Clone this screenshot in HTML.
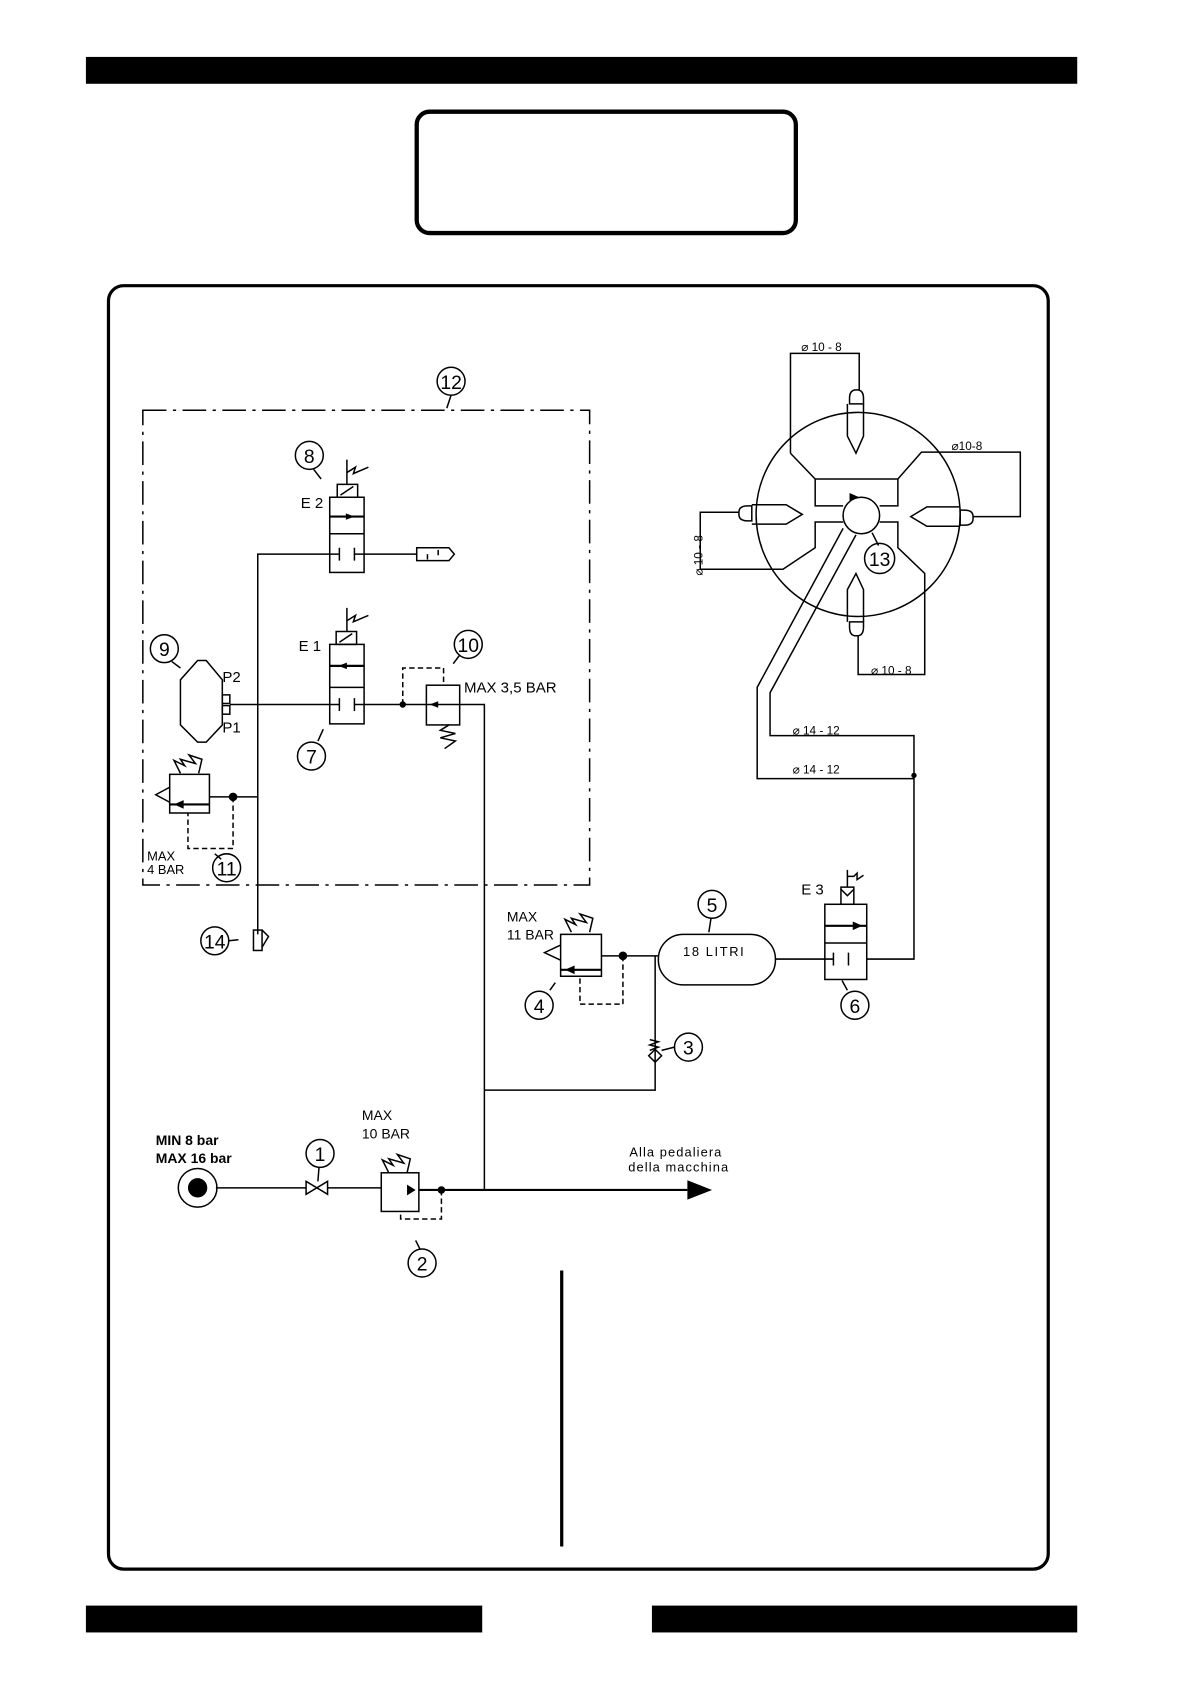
<!DOCTYPE html>
<html><head><meta charset="utf-8"><style>
html,body{margin:0;padding:0;background:#fff;width:1190px;height:1684px;overflow:hidden}
svg{display:block}
text{font-family:"Liberation Sans",sans-serif;fill:#000}
</style></head><body>
<svg width="1190" height="1684" viewBox="0 0 1108 1568" preserveAspectRatio="none" xmlns="http://www.w3.org/2000/svg">
<rect x="80" y="53" width="923" height="25" fill="#000"/>
<rect x="388" y="104" width="353" height="113" rx="12" fill="none" stroke="#000" stroke-width="4"/>
<rect x="101" y="266" width="875" height="1195" rx="14" fill="none" stroke="#000" stroke-width="3"/>
<rect x="80" y="1495" width="369" height="25" fill="#000"/>
<rect x="607" y="1495" width="396" height="25" fill="#000"/>
<line x1="523" y1="1183" x2="523" y2="1440" stroke="#000" stroke-width="3"/>

<g fill="none" stroke="#000" stroke-width="1.4">
<rect x="133" y="382" width="416" height="442" stroke-dasharray="22,6,3,6"/>
<line x1="420" y1="368" x2="416" y2="380"/>
<rect x="307" y="463" width="32" height="70"/>
<line x1="307" y1="481" x2="339" y2="481" stroke-width="2"/>
<line x1="307" y1="497" x2="339" y2="497"/>
<rect x="314" y="451" width="19" height="12"/><line x1="317" y1="461" x2="329" y2="453"/>
<path d="M323 451V428M323 440l8-5-2 6 14-6"/>
<path d="M240 870V516H316M316 510v12M330 510v12M330 516H388"/>
<path d="M388 510h30l5 6-5 6h-30z"/><path d="M398 516v5M408 512v5"/>
<line x1="292" y1="437" x2="299" y2="446"/>
<rect x="307" y="600" width="32" height="74"/>
<line x1="307" y1="620" x2="339" y2="620" stroke-width="2"/>
<line x1="307" y1="640" x2="339" y2="640"/>
<rect x="313" y="588" width="19" height="12"/><line x1="316" y1="598" x2="328" y2="590"/>
<path d="M323 588V566M323 578l8-5-2 6 14-6"/>
<path d="M214 656H316M316 650v12M330 650v12M330 656H428"/>
<line x1="301" y1="679" x2="296" y2="690"/>
<rect x="397" y="638" width="31" height="37"/>
<path d="M375 656v-34h38v16" stroke-dasharray="5,3"/>
<path d="M428 656h23V1108"/>
<path d="M418 675l-8 5 14 3-14 4 14 3-10 7"/>
<line x1="428" y1="610" x2="422" y2="618"/>
<path d="M184 615h8l15 18v42l-15 16h-8l-16-16v-42z"/>
<rect x="207" y="647" width="7" height="8"/><rect x="207" y="657" width="7" height="8"/>
<line x1="160" y1="616" x2="168" y2="622"/>
<rect x="158" y="721" width="37" height="36"/>
<line x1="158" y1="749" x2="195" y2="749" stroke-width="2"/>
<path d="M158 733l-13 7 13 7"/>
<path d="M168 720l-6-12 10 5-4-6 14 4-6-8 12 4 -3 13"/>
<path d="M195 742H240"/>
<path d="M217 742v48h-42v-33" stroke-dasharray="5,3"/>
<line x1="200" y1="795" x2="206" y2="800"/>
<rect x="236" y="866" width="8" height="19"/><path d="M244 866l6 6-6 10"/>
<line x1="213" y1="876" x2="222" y2="875"/>
<circle cx="799" cy="479" r="95"/>
<circle cx="802" cy="480" r="17"/>
<path d="M736 422V329H800V363"/>
<path d="M736 422l23 24h77l22-25h92v60h-44"/>
<path d="M759 446v25h26M836 446v25h-17"/>
<path d="M785 486h-26v24l-30 20h-77v-53h36"/>
<path d="M819 486h17v24l25 24v94h-62v-36"/>
<path d="M797 363q-6 0-6 8v5h13v-5q0-8-6-8z"/>
<path d="M789 376v30l8 16 7-16v-30"/>
<path d="M797 592q-6 0-6-8v-5h13v5q0 8-6 8z"/>
<path d="M789 579v-30l8-15 7 15v30"/>
<path d="M688 477q0-6 8-6h4v14h-4q-8 0-8-6z"/><path d="M700 470h32l15 9-15 9h-32"/>
<path d="M906 481q0-6-8-6h-4v14h4q8 0 8-6z"/><path d="M894 472h-31l-15 9 15 9h31"/>
<path d="M785 492L705 640V725H851"/>
<path d="M797 498L717 645V685H851V893H807"/>
<line x1="812" y1="496" x2="818" y2="508"/>
<rect x="768" y="842" width="39" height="70"/>
<line x1="768" y1="862" x2="807" y2="862" stroke-width="2"/>
<line x1="768" y1="878" x2="807" y2="878"/>
<path d="M783 826h12v16h-12z"/><path d="M783 828l6 6 6-6"/>
<path d="M789 826v-16M789 816l6 0 3-3 0 6 6-4"/>
<path d="M722 893H776M776 887v12M790 887v12"/>
<line x1="784" y1="913" x2="789" y2="922"/>
<rect x="613" y="870" width="109" height="47" rx="23"/>
<line x1="662" y1="855" x2="660" y2="868"/>
<rect x="522" y="870" width="38" height="39"/>
<line x1="522" y1="903" x2="560" y2="903" stroke-width="2"/>
<path d="M522 880l-15 7 15 7"/>
<path d="M532 868l-6-12 10 5-4-6 14 4-6-8 12 4-3 13"/>
<path d="M560 890H613M610 890V1015H451"/>
<path d="M580 890v45h-40v-26" stroke-dasharray="5,3"/>
<line x1="512" y1="922" x2="517" y2="915"/>
<path d="M605 968l8 2-8 3 8 2-8 3"/>
<path d="M604 983l6 6 6-6-6-6z"/>
<line x1="616" y1="978" x2="628" y2="975"/>
<path d="M201 1106H285M305 1106H355"/>
<path d="M285 1100v12l20-12v12z"/>
<line x1="297" y1="1087" x2="296" y2="1100"/>
<rect x="355" y="1092" width="35" height="36"/>
<path d="M390 1108H640" stroke-width="2"/>
<path d="M411 1108v27h-38v-7" stroke-dasharray="5,3"/>
<path d="M362 1092l-6-12 10 5-4-6 14 4-6-8 12 4-3 13"/>
<line x1="391" y1="1163" x2="387" y2="1155"/>
<circle cx="184" cy="1106" r="18"/>
</g>
<g fill="#000">
<path d="M355 1108h32l-8-5v10l8-5z"/>
<path d="M640 1099l23 9-23 9z"/>
<circle cx="184" cy="1106" r="9"/>
<circle cx="411" cy="1108" r="3.5"/><circle cx="375" cy="656" r="3"/>
<circle cx="217" cy="742" r="4"/><circle cx="580" cy="890" r="4"/><circle cx="851" cy="722" r="2.5"/>
<path d="M330 481l-8-3v6z"/>
<path d="M315 620l8-3v6z"/>
<path d="M400 656l8-3v6z"/><path d="M162 749l9-4v8z"/><path d="M526 903l9-4v8z"/>
<path d="M803 862l-9-4v8z"/><path d="M800 463l-9-4v8z"/>
</g>
<g fill="none" stroke="#000" stroke-width="1.4">
<circle cx="420" cy="355" r="13"/><circle cx="288" cy="424" r="13"/><circle cx="153" cy="604" r="13"/>
<circle cx="290" cy="704" r="13"/><circle cx="436" cy="600" r="13"/><circle cx="211" cy="808" r="13"/>
<circle cx="200" cy="876" r="13"/><circle cx="819" cy="520" r="14"/><circle cx="663" cy="842" r="13"/>
<circle cx="796" cy="936" r="13"/><circle cx="502" cy="936" r="13"/><circle cx="641" cy="975" r="13"/>
<circle cx="298" cy="1074" r="13"/><circle cx="393" cy="1176" r="13"/>
</g>
<g font-size="18" text-anchor="middle">
<text x="420" y="362">12</text><text x="288" y="431">8</text><text x="153" y="611">9</text>
<text x="290" y="711">7</text><text x="436" y="607">10</text><text x="211" y="815">11</text>
<text x="200" y="883">14</text><text x="819" y="527">13</text><text x="663" y="849">5</text>
<text x="796" y="943">6</text><text x="502" y="943">4</text><text x="641" y="982">3</text>
<text x="298" y="1081">1</text><text x="393" y="1183">2</text>
</g>
<g font-size="14">
<text x="280" y="473">E 2</text><text x="278" y="606">E 1</text>
<text x="207" y="635">P2</text><text x="207" y="682">P1</text>
<text x="432" y="645">MAX  3,5 BAR</text>
<text x="746" y="833">E 3</text>
<text x="472" y="858" font-size="13">MAX</text><text x="472" y="875" font-size="13">11  BAR</text>
<text x="337" y="1043" font-size="13">MAX</text><text x="337" y="1060" font-size="13">10  BAR</text>
</g>
<g font-size="12">
<text x="137" y="801">MAX</text><text x="137" y="814">4 BAR</text>
<text x="636" y="890" letter-spacing="1.5">18  LITRI</text>
<text x="746" y="327" font-size="11">⌀ 10 - 8</text>
<text x="886" y="419" font-size="11">⌀10-8</text>
<text x="811" y="628" font-size="11">⌀ 10 - 8</text>
<text x="738" y="684" font-size="11">⌀  14 - 12</text>
<text x="738" y="720" font-size="11">⌀  14 - 12</text>
<text transform="translate(654 536) rotate(-90)" font-size="11">⌀ 10 - 8</text>
<text x="586" y="1077" letter-spacing="1">Alla  pedaliera</text>
<text x="585" y="1091" letter-spacing="1">della  macchina</text>
</g>
<g font-size="13" font-weight="bold">
<text x="145" y="1066">MIN 8 bar</text><text x="145" y="1083">MAX 16 bar</text>
</g>
</svg>
</body></html>
